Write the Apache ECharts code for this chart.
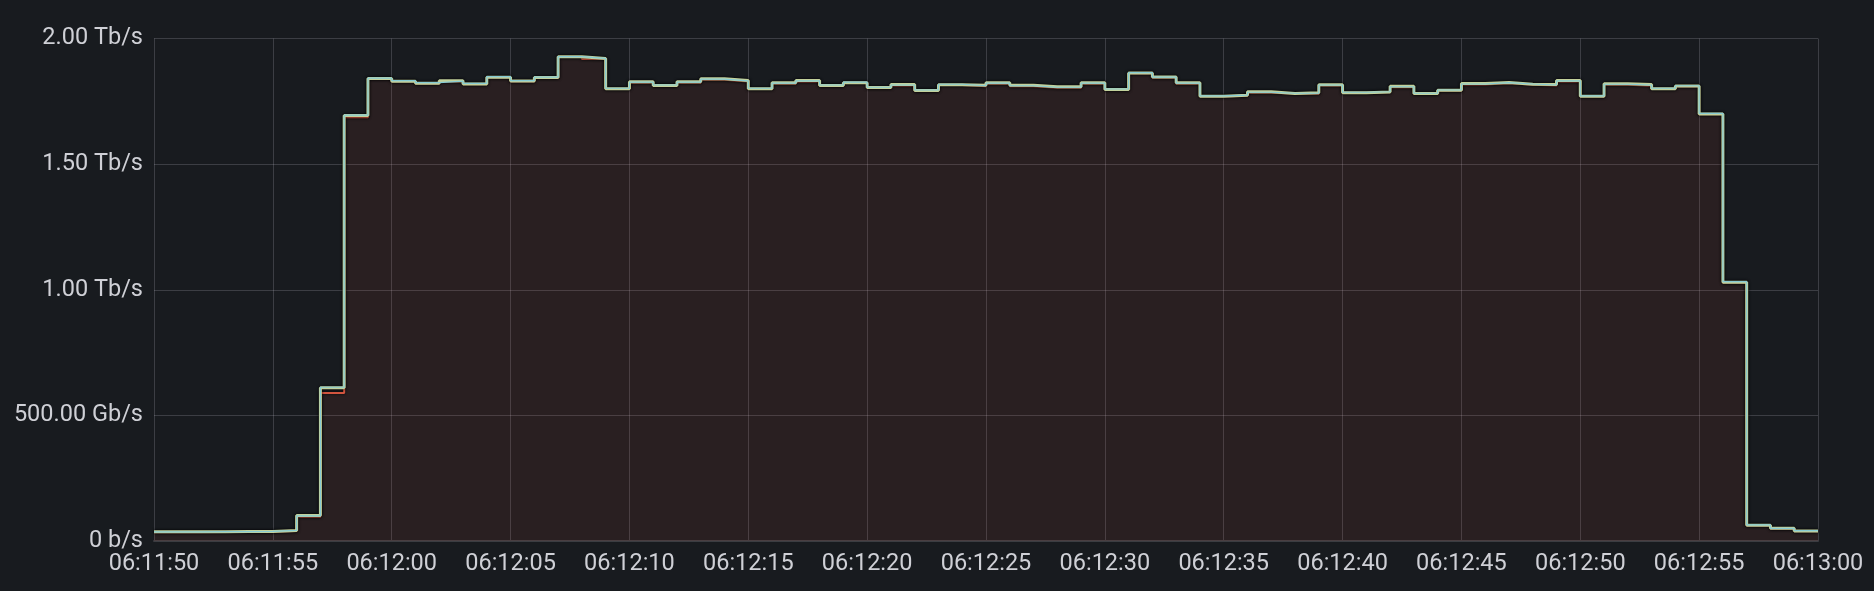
<!DOCTYPE html>
<html>
<head>
<meta charset="utf-8">
<script src="https://cdn.jsdelivr.net/npm/echarts@6/dist/echarts.min.js"></script>
<style>
html,body{margin:0;padding:0;background:#181b1f;}
#c{width:1874px;height:591px;}
</style>
</head>
<body>
<div id="c"></div>
<script>
// seconds after 06:11:50
const startLabel = [6, 11, 50];
// throughput in Gb/s, one sample per second
const seriesCyan = [36,36,37,37,38,42,100,612,1695,1842,1832,1824,1830,1821,1848,1832,1846,1928,1921,1802,1826,1815,1826,1838,1831,1802,1822,1831,1815,1826,1806,1815,1795,1818,1812,1822,1812,1806,1806,1822,1799,1864,1846,1822,1772,1775,1786,1782,1782,1815,1786,1788,1808,1782,1795,1819,1824,1819,1815,1831,1772,1818,1815,1802,1812,1702,1032,64,50,41,41];
const seriesGreen = [37,37,37,38,38,42,101,610,1694,1841,1830,1822,1832,1819,1846,1831,1845,1927,1920,1800,1828,1813,1828,1840,1833,1800,1824,1833,1813,1824,1805,1817,1793,1816,1814,1824,1814,1808,1808,1824,1797,1863,1847,1824,1770,1774,1788,1781,1784,1816,1784,1787,1810,1781,1794,1821,1825,1818,1817,1833,1770,1820,1817,1800,1811,1700,1030,63,51,40,40];
const seriesRed = [35,35,36,36,37,40,97,589,1687,1840,1829,1820,1829,1818,1845,1829,1843,1926,1918,1799,1824,1812,1824,1836,1829,1799,1820,1829,1812,1823,1803,1813,1792,1815,1810,1820,1810,1804,1804,1820,1796,1861,1844,1820,1769,1772,1784,1780,1780,1813,1783,1786,1806,1779,1792,1817,1822,1816,1813,1829,1769,1816,1812,1799,1809,1699,1028,62,49,39,39];
const yTicks = [0, 500, 1000, 1500, 2000];

function pad(n){return (n<10?'0':'')+n;}
function timeLabel(sec){
  let t = startLabel[0]*3600 + startLabel[1]*60 + startLabel[2] + sec;
  const h = Math.floor(t/3600), m = Math.floor((t%3600)/60), s = t%60;
  return pad(h)+':'+pad(m)+':'+pad(s);
}
function yLabel(v){
  if (v === 0) return '0 b/s';
  if (v < 1000) return v.toFixed(2)+' Gb/s';
  return (v/1000).toFixed(2)+' Tb/s';
}
function pairs(arr){ return arr.map((v,i)=>[i,v]); }

const chart = echarts.init(document.getElementById('c'), null, {renderer:'canvas'});
const lineBase = {
  type:'line', step:'end', symbol:'none', animation:false,
};
chart.setOption({
  backgroundColor:'#181b1f',
  animation:false,
  grid:{left:154, right:56, top:38.5, bottom:50, containLabel:false},
  xAxis:{
    type:'value', min:0, max:70, interval:5,
    axisLine:{show:true, lineStyle:{color:'#3b3d42', width:2}},
    axisTick:{show:false},
    axisLabel:{color:'#cfd0d6', fontSize:23.5, fontFamily:'Roboto', margin:11, formatter:timeLabel},
    splitLine:{show:true, lineStyle:{color:'rgba(204,204,220,0.2)', width:1}}
  },
  yAxis:{
    type:'value', min:yTicks[0], max:yTicks[yTicks.length-1], interval:500,
    axisLine:{show:false}, axisTick:{show:false},
    axisLabel:{color:'#cfd0d6', fontSize:23.5, fontFamily:'Roboto', margin:11, formatter:yLabel},
    splitLine:{show:true, lineStyle:{color:'rgba(204,204,220,0.2)', width:1}}
  },
  series:[
    Object.assign({}, lineBase, {name:'red', data:pairs(seriesRed), z:2,
      lineStyle:{color:'#d2553f', width:2, shadowColor:'rgba(0,0,0,0.9)', shadowBlur:3},
      areaStyle:{color:'rgba(228,84,60,0.12)'}}),
    Object.assign({}, lineBase, {name:'green', data:pairs(seriesGreen), z:3,
      lineStyle:{color:'#c2d19c', width:3, shadowColor:'rgba(0,0,0,0.9)', shadowBlur:3}}),
    Object.assign({}, lineBase, {name:'cyan', data:pairs(seriesCyan), z:4,
      lineStyle:{color:'#86cbd4', width:1.2}})
  ]
});
</script>
</body>
</html>
